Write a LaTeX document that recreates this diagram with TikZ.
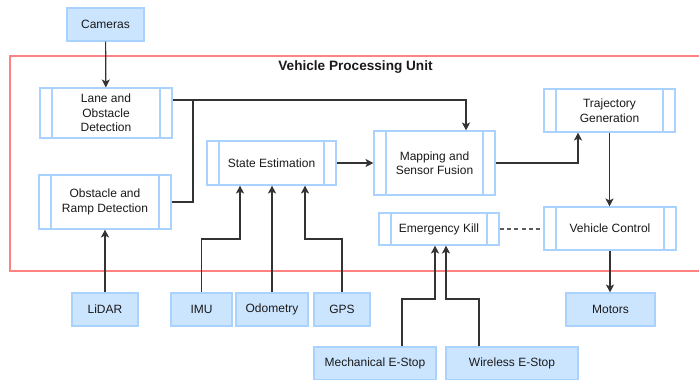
\documentclass[tikz,border=0pt]{standalone}
\usepackage{fontspec}
\setmainfont{Liberation Sans}
\usetikzlibrary{arrows.meta}
\definecolor{srcfill}{HTML}{CCE5FF}
\definecolor{boxline}{HTML}{A9D2FF}
\definecolor{unitred}{HTML}{FF8282}
\definecolor{wire}{HTML}{333333}
\definecolor{txt}{HTML}{1A1A1A}
\begin{document}
\begin{tikzpicture}[x=0.75pt,y=-0.75pt,
  every node/.style={font=\fontsize{9}{10.9}\selectfont, text=txt, align=center, inner sep=0pt},
  sz/.style 2 args={minimum width=#1*0.75pt, minimum height=#2*0.75pt},
  source/.style={rectangle, draw=boxline, fill=srcfill, line width=0.8pt},
  proc/.style={rectangle, draw=boxline, fill=white, line width=0.8pt,
    path picture={
      \draw[boxline, line width=0.8pt]
        ([xshift=9pt]path picture bounding box.north west) -- ([xshift=9pt]path picture bounding box.south west)
        ([xshift=-9pt]path picture bounding box.north east) -- ([xshift=-9pt]path picture bounding box.south east);
    }},
  arr/.style={draw=wire, line width=0.9pt, -{Stealth[length=6pt,width=6pt,inset=1.5pt]}},
  wireline/.style={draw=wire, line width=0.9pt},
  link/.style={draw=wire!80, line width=0.9pt, dash pattern=on 3pt off 2.5pt}
]
\useasboundingbox (0,0) rectangle (699,379);

% processing unit frame
\begin{scope}
  \clip (0,0) rectangle (699,379);
  \draw[unitred, line width=1pt] (10,56) rectangle (720,271);
\end{scope}
\node[font=\fontsize{10.2}{12}\selectfont\bfseries] (title) at (355.5,67.5) {Vehicle Processing Unit};

% sensors and actuators
\node[source, sz={77}{33}] (cam) at (105.5,24.5) {Cameras};
\node[source, sz={66}{33}] (lidar) at (105,309.5) {LiDAR};
\node[source, sz={61}{33}] (imu) at (201.5,309.5) {IMU};
\node[source, sz={72}{33}] (odo) at (272,309.5) {Odometry};
\node[source, sz={56}{33}] (gps) at (342,309.5) {GPS};
\node[source, sz={89}{33}] (motors) at (610.5,309.5) {Motors};
\node[source, sz={122}{33}] (mech) at (375,363.5) {Mechanical E-Stop};
\node[source, sz={132}{33}] (wless) at (512,363.5) {Wireless E-Stop};

% processing blocks
\node[proc, sz={132}{50}] (lane) at (106,113) {Lane and\\Obstacle\\Detection};
\node[proc, sz={132}{54}] (ramp) at (105,202) {Obstacle and\\Ramp Detection};
\node[proc, sz={129}{44}] (state) at (271.5,163) {State Estimation};
\node[proc, sz={121}{64}] (map) at (434.5,163) {Mapping and\\Sensor Fusion};
\node[proc, sz={131}{43}] (traj) at (609.5,110.5) {Trajectory\\Generation};
\node[proc, sz={120}{32}] (kill) at (439,229) {Emergency Kill};
\node[proc, sz={132}{43}] (vc) at (610,228.5) {Vehicle Control};

% routing points
\coordinate (jd) at (193,100);
\coordinate (jm) at (466,100);
\coordinate (jt) at (578,163);
\coordinate (ji) at (240,239);
\coordinate (jg) at (305,239);
\coordinate (jk1) at (435,299);
\coordinate (jk2) at (446,299);

% connectors
\draw[arr] (cam) -- (lane);
\draw[arr] (lane.east |- jd) -- (jm) -- (jm |- map.north);
\draw[wireline] (ramp.east) -| (jd);
\draw[arr] (state) -- (map);
\draw[arr] (map.east) -- (jt) -- (jt |- traj.south);
\draw[arr] (traj.south) -- (traj.south |- vc.north);
\draw[arr] (vc.south) -- (vc.south |- motors.north);
\draw[link] (kill.east) -- (kill.east -| vc.west);
\draw[arr] (lidar) -- (ramp);
\draw[arr] (imu.north) -- (imu.north |- ji) -- (ji) -- (ji |- state.south);
\draw[arr] (odo.north) -- (odo.north |- state.south);
\draw[arr] (gps.north) -- (gps.north |- jg) -- (jg) -- (jg |- state.south);
\draw[arr] ([xshift=20.25pt]mech.north) -- ([xshift=20.25pt]mech.north |- jk1) -- (jk1) -- (jk1 |- kill.south);
\draw[arr] ([xshift=-24.75pt]wless.north) -- ([xshift=-24.75pt]wless.north |- jk2) -- (jk2) -- (jk2 |- kill.south);
\end{tikzpicture}
\end{document}
